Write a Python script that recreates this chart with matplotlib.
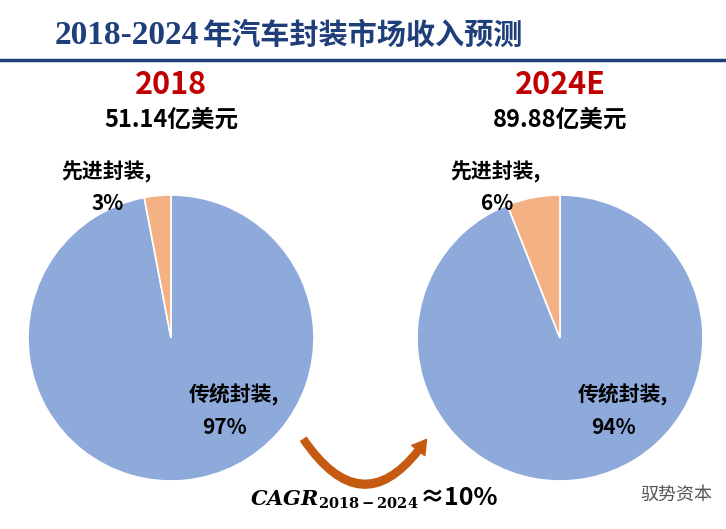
import matplotlib
matplotlib.use("Agg")
import matplotlib.pyplot as plt
from matplotlib.patches import FancyArrowPatch

years = ["2018", "2024E"]
totals = ["51.14亿美元", "89.88亿美元"]
categories = ["传统封装", "先进封装"]
shares = [[97, 3], [94, 6]]
colors = ["#8eaadb", "#f4b183"]

cjk = "Noto Sans CJK SC"
W, H = 726, 529
plt.rcParams["mathtext.fontset"] = "dejavuserif"
fig = plt.figure(figsize=(W/100, H/100), dpi=100)

def fx(x): return x / W
def fy(y): return 1 - y / H

fig.text(fx(55), fy(35), "2018-2024", fontsize=24, fontweight="bold", family="Liberation Serif",
         color="#1f3f7a", va="center", ha="left")
fig.text(fx(203), fy(35), "年汽车封装市场收入预测", fontsize=21, fontweight="bold", family=cjk,
         color="#1f3f7a", va="center", ha="left")
fig.add_artist(plt.Line2D([0, 1], [fy(60), fy(60)], color="#1f3f7a", lw=2.5))

centers = [171, 560]
R = 143
for i, cx in enumerate(centers):
    ax = fig.add_axes([fx(cx - R), fy(338 + R), 2*R/W, 2*R/H])
    ax.pie(shares[i], colors=colors, startangle=90, counterclock=False,
           wedgeprops=dict(linewidth=1.2, edgecolor="white"))
    ax.set_xlim(-1, 1); ax.set_ylim(-1, 1)
    ax.set_aspect("equal")
    fig.text(fx(cx), fy(85), years[i], fontsize=22, fontweight="bold", family=cjk,
             color="#c00000", ha="center", va="center")
    fig.text(fx(cx), fy(120), totals[i], fontsize=17, fontweight="bold", family=cjk,
             color="black", ha="center", va="center")
    fig.text(fx(cx - 65), fy(172), categories[1] + ",", fontsize=15, fontweight="bold", family=cjk, ha="center", va="center")
    fig.text(fx(cx - 63), fy(203), f"{shares[i][1]}%", fontsize=15, fontweight="bold", family=cjk, ha="center", va="center")
    fig.text(fx(cx + 63), fy(395), categories[0] + ",", fontsize=15, fontweight="bold", family=cjk, ha="center", va="center")
    fig.text(fx(cx + 53), fy(427), f"{shares[i][0]}%", fontsize=15, fontweight="bold", family=cjk, ha="center", va="center")

arr = FancyArrowPatch((fx(302), fy(437)), (fx(428), fy(437)), transform=fig.transFigure,
                      connectionstyle="arc3,rad=0.75", arrowstyle="simple,head_width=12,head_length=10,tail_width=5",
                      color="#c55a11")
fig.add_artist(arr)
cagr = fig.text(fx(250), fy(500), r"$\mathbfit{CAGR}_{\mathbf{2018-2024}}$",
                fontsize=15, ha="left", va="center")
fig.text(fx(640), fy(495), "驭势资本", fontsize=13, family=cjk, color="#555555", ha="left", va="center")
fig.canvas.draw()
bb = cagr.get_window_extent()
fig.text(bb.x1 / W + 0.002, fy(498), "≈10%", fontsize=18, fontweight="bold", family=cjk, ha="left", va="center")

fig.savefig("out.png", dpi=100)
